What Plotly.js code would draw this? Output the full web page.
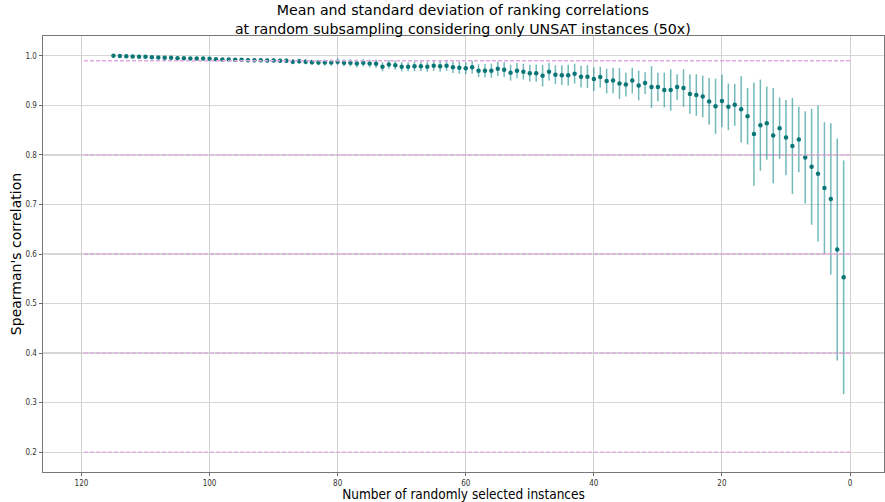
<!DOCTYPE html>
<html>
<head>
<meta charset="utf-8">
<script src="https://cdn.plot.ly/plotly-3.0.1.min.js"></script>
<style>
  html, body { margin: 0; padding: 0; background: #fff; }
  #chart { width: 885px; height: 502px; }
</style>
</head>
<body>
<div id="chart"></div>
<script>
// Number of randomly selected instances (115 down to 1)
const sampleSizes = [];
for (let n = 115; n >= 1; n--) sampleSizes.push(n);

// Mean Spearman correlation for each sample size (same order as sampleSizes)
const meanCorr = [
  1.000, 0.9995, 0.999, 0.9985, 0.998, 0.998, 0.997, 0.9965, 0.996, 0.996,   // 115-106
  0.995, 0.995, 0.9945, 0.9945, 0.9945, 0.994, 0.993, 0.9925, 0.9925, 0.992, // 105-96
  0.992, 0.991, 0.991, 0.991, 0.9905, 0.9905, 0.990, 0.990, 0.988, 0.989,    // 95-86
  0.988, 0.987, 0.9865, 0.9865, 0.9865, 0.988, 0.986, 0.986, 0.9845, 0.986,  // 85-76
  0.9845, 0.984, 0.978, 0.9825, 0.981, 0.978, 0.978, 0.979, 0.979, 0.978,    // 75-66
  0.980, 0.979, 0.980, 0.977, 0.976, 0.975, 0.977, 0.970, 0.970, 0.970,      // 65-56
  0.974, 0.972, 0.966, 0.970, 0.968, 0.965, 0.965, 0.960, 0.968, 0.962,      // 55-46
  0.961, 0.961, 0.964, 0.958, 0.958, 0.953, 0.957, 0.949, 0.950, 0.944,      // 45-36
  0.942, 0.950, 0.940, 0.945, 0.937, 0.937, 0.931, 0.931, 0.937, 0.935,      // 35-26
  0.923, 0.921, 0.918, 0.908, 0.898, 0.909, 0.897, 0.901, 0.892, 0.878,      // 25-16
  0.842, 0.860, 0.864, 0.839, 0.854, 0.835, 0.818, 0.831, 0.795, 0.776,      // 15-6
  0.762, 0.733, 0.711, 0.609, 0.553                                          // 5-1
];

// Standard deviation of the correlation over the 50 repetitions
const stdCorr = [
  0.0005, 0.001, 0.001, 0.0012, 0.0012, 0.0015, 0.0015, 0.0018, 0.002, 0.002,  // 115-106
  0.0022, 0.0022, 0.0025, 0.0025, 0.0028, 0.003, 0.003, 0.0032, 0.0032, 0.0035,// 105-96
  0.0035, 0.0038, 0.004, 0.004, 0.0042, 0.0045, 0.0045, 0.0048, 0.005, 0.005,  // 95-86
  0.0052, 0.0055, 0.0055, 0.006, 0.006, 0.0065, 0.007, 0.0075, 0.008, 0.0075,  // 85-76
  0.008, 0.0085, 0.009, 0.0085, 0.009, 0.0095, 0.009, 0.01, 0.0095, 0.01,      // 75-66
  0.0105, 0.011, 0.0105, 0.0115, 0.012, 0.012, 0.013, 0.013, 0.0135, 0.014,    // 65-56
  0.0145, 0.015, 0.016, 0.0155, 0.016, 0.017, 0.0175, 0.022, 0.018, 0.019,     // 55-46
  0.02, 0.021, 0.02, 0.022, 0.023, 0.024, 0.021, 0.025, 0.026, 0.031,          // 45-36
  0.024, 0.026, 0.030, 0.022, 0.042, 0.029, 0.035, 0.042, 0.026, 0.038,        // 35-26
  0.040, 0.042, 0.042, 0.047, 0.056, 0.053, 0.047, 0.042, 0.067, 0.057,        // 25-16
  0.104, 0.092, 0.074, 0.096, 0.062, 0.076, 0.097, 0.066, 0.093, 0.117,        // 15-6
  0.137, 0.133, 0.153, 0.224, 0.236                                            // 5-1
];

// Reference levels drawn as dashed horizontal lines over the sampled range
const refLevels = [0.99, 0.8, 0.6, 0.4, 0.2];
const refSpan = [0, 120];

const yTicks = [0.2, 0.3, 0.4, 0.5, 0.6, 0.7, 0.8, 0.9, 1.0];
const xTicks = [0, 20, 40, 60, 80, 100, 120];

const trace = {
  type: 'scatter',
  mode: 'markers',
  x: sampleSizes,
  y: meanCorr,
  marker: { color: '#0b7676', size: 4.5 },
  error_y: {
    type: 'data',
    array: stdCorr,
    visible: true,
    color: 'rgba(0,128,128,0.55)',
    thickness: 1.5,
    width: 0
  },
  hoverinfo: 'x+y'
};

const shapes = refLevels.map(v => ({
  type: 'line',
  xref: 'x', yref: 'y',
  x0: refSpan[0], x1: refSpan[1],
  y0: v, y1: v,
  line: { color: '#e0a8e0', width: 1.3, dash: '4px,2px' },
  layer: 'above'
}));

const axisFont = { family: 'DejaVu Sans Condensed, DejaVu Sans, sans-serif', size: 8, color: '#333' };

const layout = {
  width: 885,
  height: 502,
  margin: { l: 43, r: 1, t: 36, b: 30 },
  paper_bgcolor: '#fff',
  plot_bgcolor: '#fff',
  showlegend: false,
  title: {
    text: 'Mean and standard deviation of ranking correlations<br>at random subsampling considering only UNSAT instances (50x)',
    font: { family: 'DejaVu Sans, sans-serif', size: 14.2, color: '#000' },
    x: 0.523, xanchor: 'center',
    yref: 'container',
    y: 0.97, yanchor: 'middle'
  },
  xaxis: {
    range: [126, -5.3],
    tickvals: xTicks,
    ticktext: xTicks.map(String),
    tickfont: axisFont,
    ticks: 'outside', ticklen: 3, tickcolor: '#444', tickwidth: 0.8,
    showgrid: true, gridcolor: '#d0d0d0', gridwidth: 1,
    zeroline: false,
    showline: true, mirror: true, linecolor: '#777', linewidth: 1,
    title: {
      text: 'Number of randomly selected instances',
      font: { family: 'DejaVu Sans Condensed, DejaVu Sans, sans-serif', size: 13.5, color: '#000' },
      standoff: 6
    }
  },
  yaxis: {
    range: [0.16, 1.04],
    tickvals: yTicks,
    ticktext: yTicks.map(v => v.toFixed(1)),
    tickfont: axisFont,
    ticks: 'outside', ticklen: 3.5, tickcolor: '#444', tickwidth: 0.8,
    showgrid: true, gridcolor: '#d6d6d6', gridwidth: 1.2,
    zeroline: false,
    showline: true, mirror: true, linecolor: '#777', linewidth: 1,
    title: {
      text: "Spearman's correlation",
      font: { family: 'DejaVu Sans, sans-serif', size: 14, color: '#000' },
      standoff: 0
    }
  },
  shapes: shapes
};

Plotly.newPlot('chart', [trace], layout, { displayModeBar: false, staticPlot: true });
</script>
</body>
</html>
